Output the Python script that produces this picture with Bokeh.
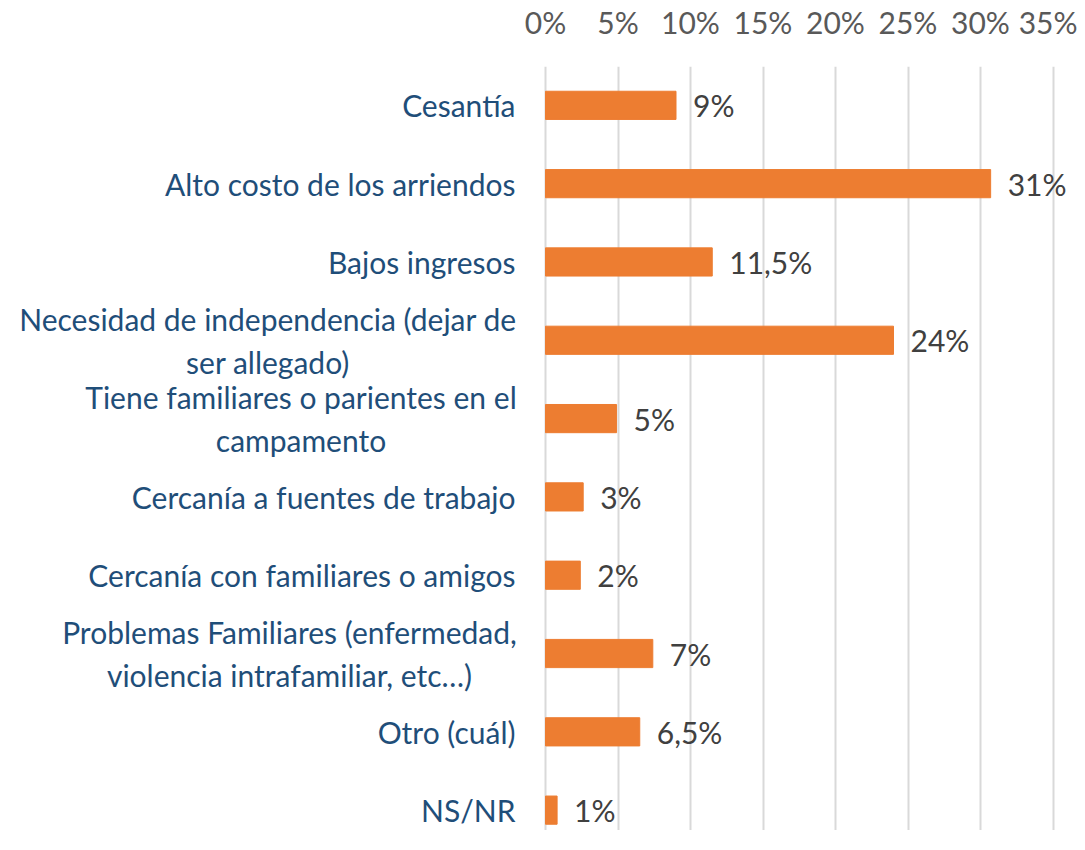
from bokeh.plotting import figure
from bokeh.models import Range1d, FixedTicker, ColumnDataSource, CustomJSTickFormatter
from bokeh.embed import file_html
from bokeh.resources import INLINE
from bokeh.core.properties import value

categories = [
    "Cesantía",
    "Alto costo de los arriendos",
    "Bajos ingresos",
    "Necesidad de independencia (dejar de\nser allegado)",
    "Tiene familiares o parientes en el\ncampamento",
    "Cercanía a fuentes de trabajo",
    "Cercanía con familiares o amigos",
    "Problemas Familiares (enfermedad,\nviolencia intrafamiliar, etc…)",
    "Otro (cuál)",
    "NS/NR",
]
values = [9.0, 30.7, 11.5, 24.0, 4.9, 2.6, 2.4, 7.4, 6.5, 0.8]
value_labels = ["9%", "31%", "11,5%", "24%", "5%", "3%", "2%", "7%", "6,5%", "1%"]
x_ticks = [0, 5, 10, 15, 20, 25, 30, 35]

FONT = "Lato"
FS = "30px"
W, H = 1077, 830
ZERO_PX = 545        # pixel position of the 0 value (label column lies to its left)
PX = 14.5            # pixels per percentage point
RIGHT_BORDER = 10
GAP = 30             # gap between category labels and the bars
# approximate pixel width of the widest line of each multi-line label (Lato 30px)
widest = {3: 495, 4: 429, 7: 452}

x_start = -ZERO_PX / PX
x_end = x_start + (W - RIGHT_BORDER) / PX

idx = list(range(len(categories)))
src = ColumnDataSource(dict(y=idx, v=values, lab=value_labels))

single = [i for i in idx if i not in widest]
multi = [i for i in idx if i in widest]
src_single = ColumnDataSource(dict(y=single, x=[-GAP / PX] * len(single),
                                   t=[categories[i] for i in single]))
src_multi = ColumnDataSource(dict(y=multi, x=[-(GAP + widest[i] / 2) / PX for i in multi],
                                  t=[categories[i] for i in multi]))

p = figure(width=W, height=H, output_backend="svg", toolbar_location=None,
           x_axis_location="above",
           x_range=Range1d(x_start, x_end), y_range=Range1d(9.26, -0.496),
           min_border_left=0, min_border_right=RIGHT_BORDER, min_border_top=62, min_border_bottom=0)
p.outline_line_color = None
p.background_fill_color = "white"

p.hbar(y="y", left=0, right="v", height=0.36, source=src, color="#ED7D31")
p.text(x="v", y="y", text="lab", source=src, x_offset=17, text_align="left",
       text_baseline="middle", text_font=value(FONT), text_font_size=FS, text_color="#404040")

# category labels
p.text(x="x", y="y", text="t", source=src_single, text_align="right", text_baseline="middle",
       text_font=value(FONT), text_font_size=FS, text_color="#1F4E79")
p.text(x="x", y="y", text="t", source=src_multi, text_align="center", text_baseline="middle",
       text_font=value(FONT), text_font_size=FS, text_color="#1F4E79", text_line_height=1.2)

xa = p.xaxis[0]
xa.ticker = FixedTicker(ticks=x_ticks)
xa.formatter = CustomJSTickFormatter(code="return tick + '%';")
xa.axis_line_color = None
xa.major_tick_line_color = None
xa.minor_tick_line_color = None
xa.major_tick_out = 0
xa.major_tick_in = 0
xa.major_label_text_font = FONT
xa.major_label_text_font_size = FS
xa.major_label_text_color = "#595959"
xa.major_label_standoff = 27

p.yaxis.visible = False

p.xgrid.ticker = FixedTicker(ticks=x_ticks)
p.xgrid.grid_line_color = "#D9D9D9"
p.xgrid.grid_line_width = 2
p.ygrid.grid_line_color = None

open("out.html", "w").write(file_html(p, INLINE))
